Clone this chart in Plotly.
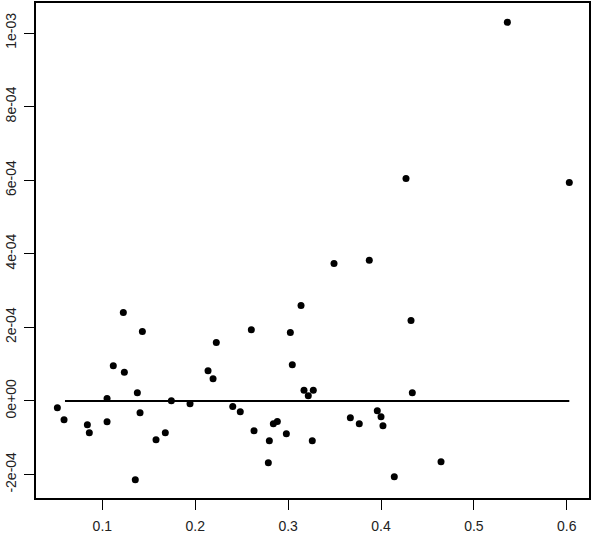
import plotly.graph_objects as go

# scatter values
x_vals = [0.0516, 0.0588, 0.0839, 0.0860, 0.1051, 0.1051, 0.1118, 0.1226, 0.1237, 0.1431,
          0.1377, 0.1406, 0.1355, 0.1578, 0.1678, 0.1743, 0.1944, 0.2138, 0.2192, 0.2227,
          0.2404, 0.2485, 0.2633, 0.2604, 0.2798, 0.2787, 0.2841, 0.2884, 0.2981, 0.3024,
          0.3045, 0.3139, 0.3171, 0.3217, 0.3271, 0.3260, 0.3670, 0.3766, 0.3960, 0.4000,
          0.4021, 0.4143, 0.4323, 0.4337, 0.4646, 0.5360, 0.4269, 0.6027, 0.3494, 0.3874]
y_vals = [-1.85e-5, -5.12e-5, -6.48e-5, -8.65e-5, 6.8e-6, -5.66e-5, 9.58e-5, 2.40e-4, 7.75e-5, 1.883e-4,
          2.23e-5, -3.21e-5, -2.144e-4, -1.056e-4, -8.65e-5, 5e-7, -7.6e-6, 8.22e-5, 6.04e-5, 1.584e-4,
          -1.50e-5, -2.94e-5, -8.11e-5, 1.937e-4, -1.083e-4, -1.682e-4, -6.20e-5, -5.58e-5, -8.92e-5, 1.856e-4,
          9.85e-5, 2.590e-4, 2.86e-5, 1.41e-5, 2.86e-5, -1.083e-4, -4.57e-5, -6.20e-5, -2.67e-5, -4.30e-5,
          -6.75e-5, -2.063e-4, 2.182e-4, 2.23e-5, -1.654e-4, 1.0291e-3, 6.046e-4, 5.937e-4, 3.733e-4, 3.823e-4]

# horizontal reference line
line_x = [0.0598, 0.6027]
line_y = [0.0, 0.0]

x_ticks = [0.1, 0.2, 0.3, 0.4, 0.5, 0.6]
x_labels = ["0.1", "0.2", "0.3", "0.4", "0.5", "0.6"]
y_ticks = [-2e-4, 0, 2e-4, 4e-4, 6e-4, 8e-4, 1e-3]
y_labels = ["-2e-04", "0e+00", "2e-04", "4e-04", "6e-04", "8e-04", "1e-03"]

fig = go.Figure()
fig.add_trace(go.Scatter(x=line_x, y=line_y, mode="lines",
                         line=dict(color="black", width=2)))
fig.add_trace(go.Scatter(x=x_vals, y=y_vals, mode="markers",
                         marker=dict(color="black", size=7)))

axis_font = dict(family="Liberation Sans", size=14, color="#222")
fig.update_layout(
    width=592, height=536,
    margin=dict(l=36, r=3, t=3, b=38),
    paper_bgcolor="white", plot_bgcolor="white",
    showlegend=False,
    xaxis=dict(range=[0.0286, 0.6239], tickvals=x_ticks, ticktext=x_labels,
               ticks="outside", ticklen=10, tickcolor="black", tickwidth=1,
               showline=True, mirror=True, linecolor="black", linewidth=1.5,
               showgrid=False, zeroline=False, tickfont=axis_font,
               ticklabelstandoff=4, automargin=False),
    yaxis=dict(range=[-2.64e-4, 1.0816e-3], tickvals=y_ticks, ticktext=y_labels,
               ticks="outside", ticklen=10, tickcolor="black", tickwidth=1,
               showline=True, mirror=True, linecolor="black", linewidth=1.5,
               showgrid=False, zeroline=False, tickfont=axis_font,
               tickangle=-90, ticklabelstandoff=3, automargin=False),
)

# the page's default body margin would push the figure off by 8px
fig.write_html("out.html", config={"displayModeBar": False},
               post_script="document.body.style.margin='0';")
